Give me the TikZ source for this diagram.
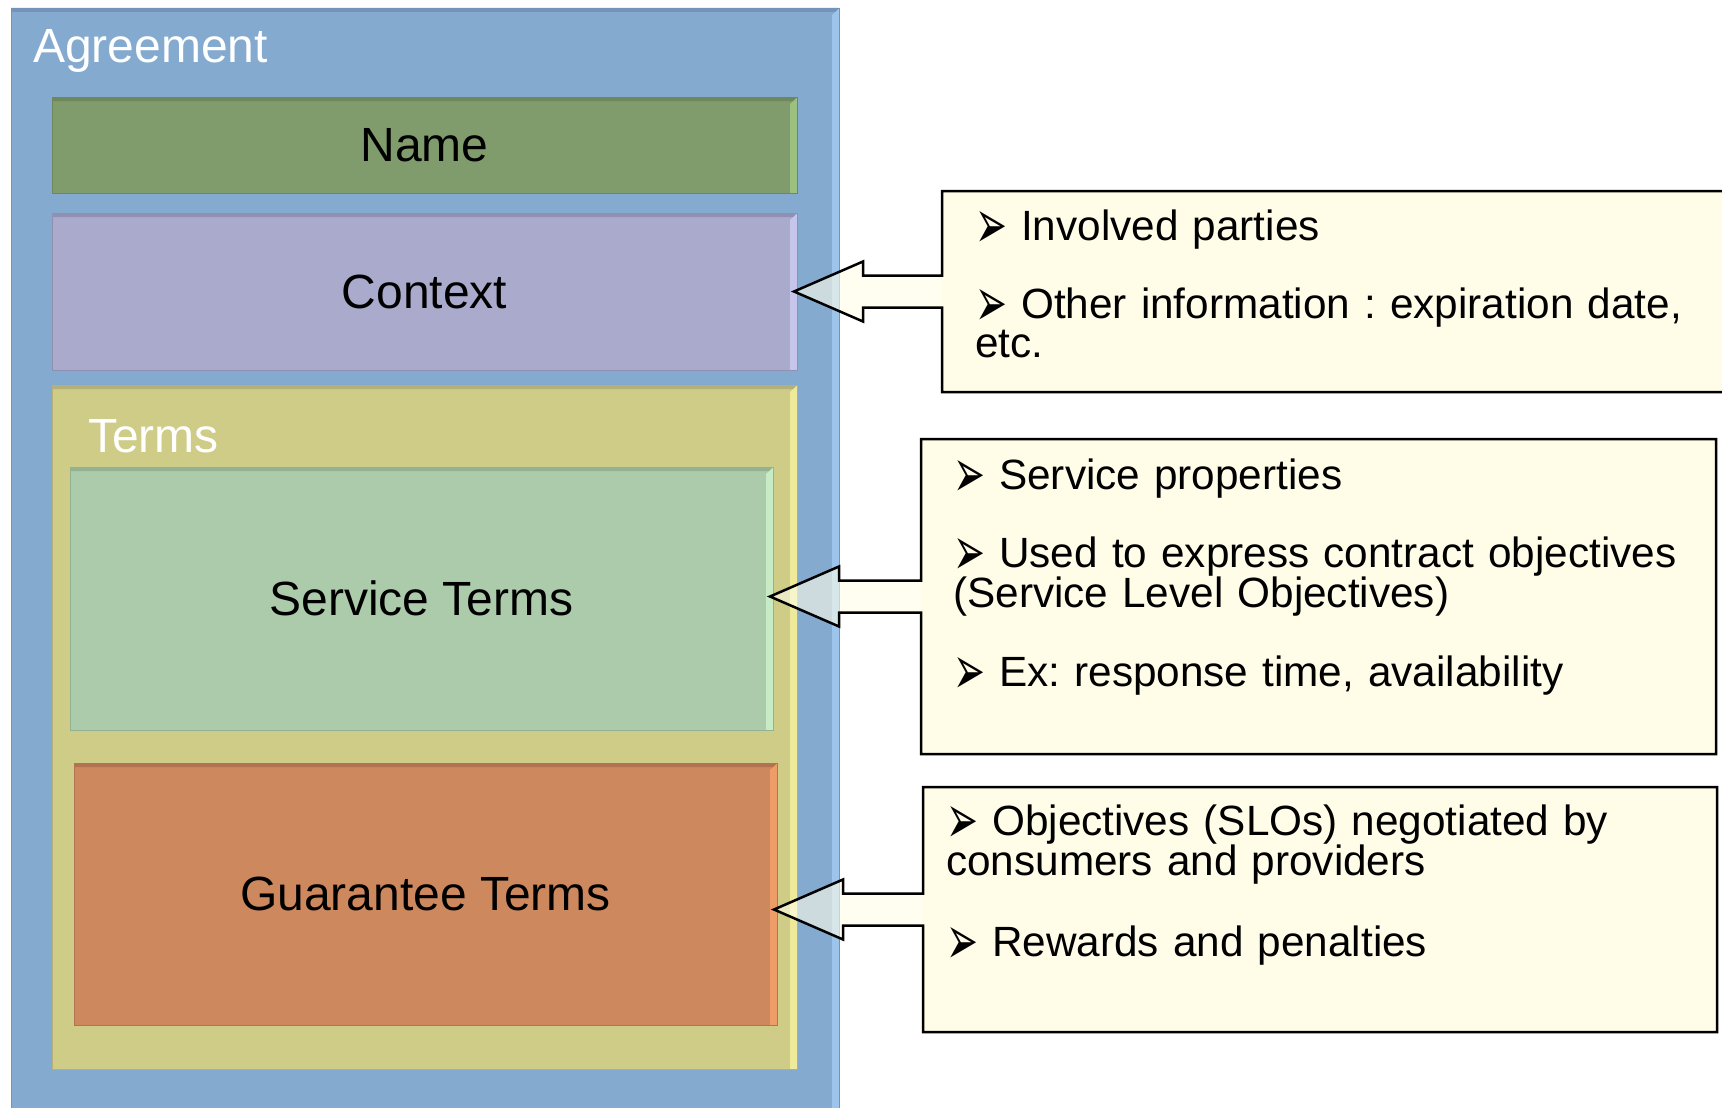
\documentclass[tikz,border=0pt]{standalone}
\usepackage{fontspec}
\setmainfont{Liberation Sans}
\newfontfamily\bulletfont{DejaVu Sans}
\usepackage{graphicx}
\usepackage{tikz}
\usetikzlibrary{positioning,calc}
\frenchspacing
\definecolor{agreeblue}{HTML}{84AACF}
\definecolor{agreelight}{HTML}{9DC4EA}
\definecolor{agreedark}{HTML}{7393B8}
\definecolor{namegreen}{HTML}{809C6C}
\definecolor{namelight}{HTML}{9CC07F}
\definecolor{namedark}{HTML}{6E885C}
\definecolor{ctxpurple}{HTML}{AAAACC}
\definecolor{ctxlight}{HTML}{C6C6EC}
\definecolor{ctxdark}{HTML}{9090B2}
\definecolor{termsyellow}{HTML}{CFCC88}
\definecolor{termslight}{HTML}{EEEA9A}
\definecolor{termsdark}{HTML}{B4B176}
\definecolor{svcgreen}{HTML}{ACCBAA}
\definecolor{svclight}{HTML}{C6EBC5}
\definecolor{svcdark}{HTML}{93B292}
\definecolor{guarorange}{HTML}{CE885E}
\definecolor{guarlight}{HTML}{EE9D68}
\definecolor{guardark}{HTML}{B27350}
\definecolor{notefill}{HTML}{FFFDE8}
\newcommand{\boxfont}{\fontsize{48}{52}\selectfont}
\newcommand{\notefont}{\fontsize{42.3}{39}\selectfont}
\newcommand{\notebullet}{\makebox[46pt][l]{\smash{\raisebox{-8pt}{\resizebox{32pt}{37pt}{\bulletfont ➢}}}}}
\tikzset{
  bevelbox/.style n args={3}{rectangle,fill=#1,draw=#3,line width=0.8pt,
    inner sep=0pt,outer sep=0pt,font=\boxfont,
    path picture={
      \fill[#2] (path picture bounding box.north east) -- ++(-7,7)
        -- ($(path picture bounding box.south east)+(-7,0)$)
        -- (path picture bounding box.south east) -- cycle;
      \fill[#3] (path picture bounding box.north west)
        -- (path picture bounding box.north east) -- ++(-4,4)
        -- ($(path picture bounding box.north west)+(0,4)$) -- cycle;}},
  panellabel/.style={anchor=base west,text=white,font=\boxfont,inner sep=0pt},
  notebox/.style={rectangle,fill=notefill,inner sep=0pt,outer sep=0pt,anchor=north west},
  notetext/.style={anchor=base west,inner sep=0pt,text width=780pt,align=left,font=\notefont},
  arrowfill/.style={fill=notefill,fill opacity=0.6},
  noteline/.style={draw=black,line width=2.5pt,line join=miter}
}
% callout outline with its arrow: #1 callout, #2 box pointed at
\newcommand{\notearrow}[2]{%
  \coordinate (tip) at ($(#2.east |- #1.west)+(-3,0)$);
  \fill[arrowfill] ($(#1.west)+(0,-16)$) -- ($(tip)+(69,-16)$) -- ($(tip)+(69,-30)$)
    -- (tip) -- ($(tip)+(69,30)$) -- ($(tip)+(69,16)$) -- ($(#1.west)+(0,16)$) -- cycle;
  \draw[noteline] ($(#1.west)+(0,-16)$) -- (#1.north west) -- (#1.north east)
    -- (#1.south east) -- (#1.south west) -- ($(#1.west)+(0,16)$)
    -- ($(tip)+(69,16)$) -- ($(tip)+(69,30)$) -- (tip) -- ($(tip)+(69,-30)$)
    -- ($(tip)+(69,-16)$) -- cycle;
}
\begin{document}
\begin{tikzpicture}[x=1pt,y=-1pt]
  \useasboundingbox (0,0) rectangle (1722,1108);
  \clip (0,0) rectangle (1722,1108);
  % agreement and its parts
  \node[bevelbox={agreeblue}{agreelight}{agreedark},anchor=north west,
    minimum width=828pt,minimum height=1130pt] (agreement) at (11,8) {};
  \node[panellabel] (agreementlabel) at (33,63) {Agreement};
  \node[bevelbox={namegreen}{namelight}{namedark},anchor=north west,
    minimum width=745pt,minimum height=96pt] (name) at (52,97) {Name};
  \node[bevelbox={ctxpurple}{ctxlight}{ctxdark},minimum width=745pt,
    minimum height=157pt,below=20pt of name] (context) {Context};
  \node[bevelbox={termsyellow}{termslight}{termsdark},minimum width=745pt,
    minimum height=684pt,below=15pt of context] (terms) {};
  \node[panellabel] (termslabel) at (88,452) {Terms};
  \node[bevelbox={svcgreen}{svclight}{svcdark},anchor=north west,
    minimum width=703pt,minimum height=263pt] (service) at (70,467) {Service Terms};
  \node[bevelbox={guarorange}{guarlight}{guardark},anchor=north west,
    minimum width=703pt,minimum height=262pt] (guarantee) at (74,763) {Guarantee Terms};
  % callouts
  \node[notebox,minimum width=820pt,minimum height=201pt] (ctxnote) at (942,191) {};
  \node[notebox,minimum width=795pt,minimum height=315pt] (svcnote) at (921,439) {};
  \node[notebox,minimum width=794pt,minimum height=245pt] (guarnote) at (923,787) {};
  \notearrow{ctxnote}{context}
  \notearrow{svcnote}{service}
  \notearrow{guarnote}{guarantee}
  \node[notetext] (ctxtext) at (975,240)
    {\notebullet Involved parties\\[38pt]
     \notebullet Other information : expiration date,\\etc.};
  \node[notetext] (svctext) at (953,489)
    {\notebullet Service properties\\[38pt]
     \notebullet Used to express contract objectives\\(Service Level Objectives)\\[38pt]
     \notebullet Ex: response time, availability};
  \node[notetext] (guartext) at (946,835)
    {\notebullet Objectives (SLOs) negotiated by\\consumers and providers\\[41pt]
     \notebullet Rewards and penalties};
\end{tikzpicture}
\end{document}
